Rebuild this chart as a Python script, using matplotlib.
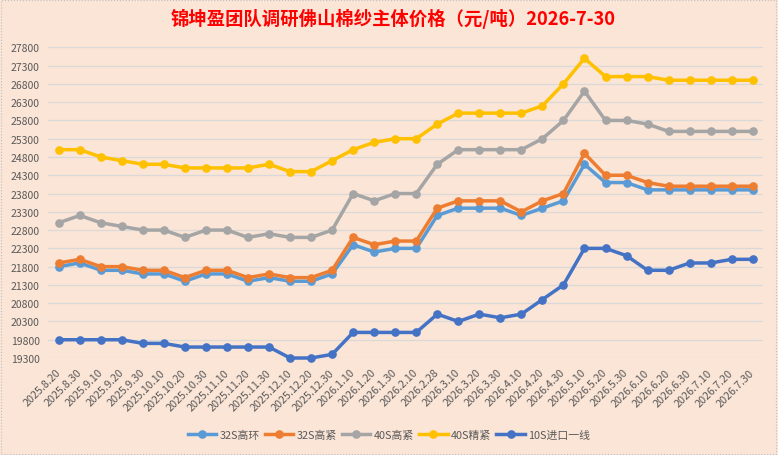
import matplotlib
matplotlib.use('Agg')
import matplotlib.pyplot as plt
from matplotlib.patches import Rectangle

plt.rcParams['font.family'] = ['Noto Sans CJK SC', 'DejaVu Sans']

dates = ["2025.8.20", "2025.8.30", "2025.9.10", "2025.9.20", "2025.9.30",
         "2025.10.10", "2025.10.20", "2025.10.30", "2025.11.10", "2025.11.20",
         "2025.11.30", "2025.12.10", "2025.12.20", "2025.12.30",
         "2026.1.10", "2026.1.20", "2026.1.30", "2026.2.10", "2026.2.28",
         "2026.3.10", "2026.3.20", "2026.3.30", "2026.4.10", "2026.4.20",
         "2026.4.30", "2026.5.10", "2026.5.20", "2026.5.30", "2026.6.10",
         "2026.6.20", "2026.6.30", "2026.7.10", "2026.7.20", "2026.7.30"]

s32_huan = [21800, 21900, 21700, 21700, 21600, 21600, 21400, 21600, 21600, 21400,
            21500, 21400, 21400, 21600, 22400, 22200, 22300, 22300, 23200, 23400,
            23400, 23400, 23200, 23400, 23600, 24600, 24100, 24100, 23900, 23900,
            23900, 23900, 23900, 23900]
s32_jin = [21900, 22000, 21800, 21800, 21700, 21700, 21500, 21700, 21700, 21500,
           21600, 21500, 21500, 21700, 22600, 22400, 22500, 22500, 23400, 23600,
           23600, 23600, 23300, 23600, 23800, 24900, 24300, 24300, 24100, 24000,
           24000, 24000, 24000, 24000]
s40_jin = [23000, 23200, 23000, 22900, 22800, 22800, 22600, 22800, 22800, 22600,
           22700, 22600, 22600, 22800, 23800, 23600, 23800, 23800, 24600, 25000,
           25000, 25000, 25000, 25300, 25800, 26600, 25800, 25800, 25700, 25500,
           25500, 25500, 25500, 25500]
s40_jingjin = [25000, 25000, 24800, 24700, 24600, 24600, 24500, 24500, 24500, 24500,
               24600, 24400, 24400, 24700, 25000, 25200, 25300, 25300, 25700, 26000,
               26000, 26000, 26000, 26200, 26800, 27500, 27000, 27000, 27000, 26900,
               26900, 26900, 26900, 26900]
s10_import = [19800, 19800, 19800, 19800, 19700, 19700, 19600, 19600, 19600, 19600,
              19600, 19300, 19300, 19400, 20000, 20000, 20000, 20000, 20500, 20300,
              20500, 20400, 20500, 20900, 21300, 22300, 22300, 22100, 21700, 21700,
              21900, 21900, 22000, 22000]

series = [("32S高环", s32_huan, "#5B9BD5"),
          ("32S高紧", s32_jin, "#ED7D31"),
          ("40S高紧", s40_jin, "#A5A5A5"),
          ("40S精紧", s40_jingjin, "#FFC000"),
          ("10S进口一线", s10_import, "#4472C4")]

bg = "#FBE5D6"
fig = plt.figure(figsize=(7.78, 4.56), dpi=100, facecolor=bg)
ax = fig.add_axes([0.062, 0.2127, 0.919, 0.6813])
ax.set_facecolor(bg)

x = list(range(len(dates)))
for name, vals, col in series:
    ax.plot(x, vals, color=col, linewidth=2.5, marker='o', markersize=5.2,
            label=name, clip_on=False, zorder=3)

ax.set_xlim(-0.5, len(dates) - 0.5)
ax.set_ylim(19300, 27800)
ax.set_yticks(range(19300, 27801, 500))
ax.grid(axis='y', color='#D9D9D9', linewidth=0.9)
ax.set_axisbelow(True)
for sp in ax.spines.values():
    sp.set_visible(False)
ax.tick_params(axis='both', length=0, colors='#595959', labelsize=7.5)
ax.tick_params(axis='y', pad=6)
ax.set_xticks(x)
ax.set_xticklabels(dates, rotation=45, ha='right', va='center',
                   rotation_mode='anchor')
ax.tick_params(axis='x', pad=9, labelsize=7.8)

fig.text(0.505, 0.958, "锦坤盈团队调研佛山棉纱主体价格（元/吨）2026-7-30",
         ha='center', va='center', color='#FF0000', fontsize=13.2,
         fontweight='bold')

leg = fig.legend(loc='center', bbox_to_anchor=(0.5, 0.045), ncol=5,
                 frameon=False, fontsize=7.8, handlelength=2.6,
                 columnspacing=0.5, handletextpad=0.3, borderaxespad=0)
for t in leg.get_texts():
    t.set_color('#595959')

fig.patches.append(Rectangle((0.001, 0.002), 0.997, 0.995, transform=fig.transFigure,
                             fill=False, edgecolor='#BFBFBF', linestyle=':',
                             linewidth=0.8))

fig.savefig('out.png', dpi=100, facecolor=bg)
